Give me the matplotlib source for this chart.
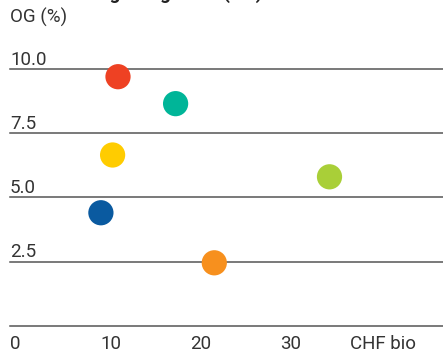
import matplotlib
matplotlib.use("Agg")
import matplotlib.pyplot as plt

# size in CHF bio vs organic growth in %
size_bio = [12.0, 18.4, 11.4, 10.1, 22.7, 35.5]
og_pct = [9.7, 8.65, 6.65, 4.4, 2.45, 5.8]
dot_colors = ["#EE4123", "#00B598", "#FFCC00", "#0A5AA0", "#F7901E", "#A9CF38"]

y_ticks = [0, 2.5, 5.0, 7.5, 10.0]
y_labels = ["", "2.5", "5.0", "7.5", "10.0"]
x_ticks = [0, 10, 20, 30]
x_labels = ["0", "10", "20", "30"]

plt.rcParams["font.family"] = ["Roboto", "DejaVu Sans"]
FS = 13.5
TXT = "#333333"
W, H = 443, 354
fig = plt.figure(figsize=(W / 100, H / 100), dpi=100)

# axes placed in pixels: x from 10 to right edge, y from 69 (10.0) to 325.7 (0)
left, right, top, bottom = 10, 443, 69, 325.7
ax = fig.add_axes([left / W, 1 - bottom / H, (right - left) / W, (bottom - top) / H])
ax.set_xlim(0, (right - left) / 9)
ax.set_ylim(0, 10)
for s in ax.spines.values():
    s.set_visible(False)

for v in y_ticks:
    ax.axhline(v, color="#555555", lw=1.1, zorder=1, clip_on=False)
for v, lab in zip(y_ticks, y_labels):
    ax.annotate(lab, xy=(0, v), xytext=(0, 3.2), textcoords="offset points",
                ha="left", va="baseline", fontsize=FS, color=TXT)

ax.scatter(size_bio, og_pct, s=330, c=dot_colors, edgecolors="none", zorder=3, clip_on=False)

ax.set_yticks([])
ax.set_xticks(x_ticks)
ax.set_xticklabels(x_labels, ha="left", fontsize=FS, color=TXT)
ax.tick_params(axis="x", length=0, pad=7)

fig.text(350 / W, 1 - 349 / H, "CHF bio", ha="left", va="baseline", fontsize=FS, color=TXT)
fig.text(10 / W, 1 - 23 / H, "OG (%)", ha="left", va="baseline", fontsize=FS, color=TXT)
# title sits mostly above the top edge, only its descenders show
fig.text(90 / W, 1 + 1 / H, "Organic growth (OG)", ha="left", va="baseline",
         fontsize=13.5, fontweight="bold", color="#222222")

fig.savefig("out.png", dpi=100)
